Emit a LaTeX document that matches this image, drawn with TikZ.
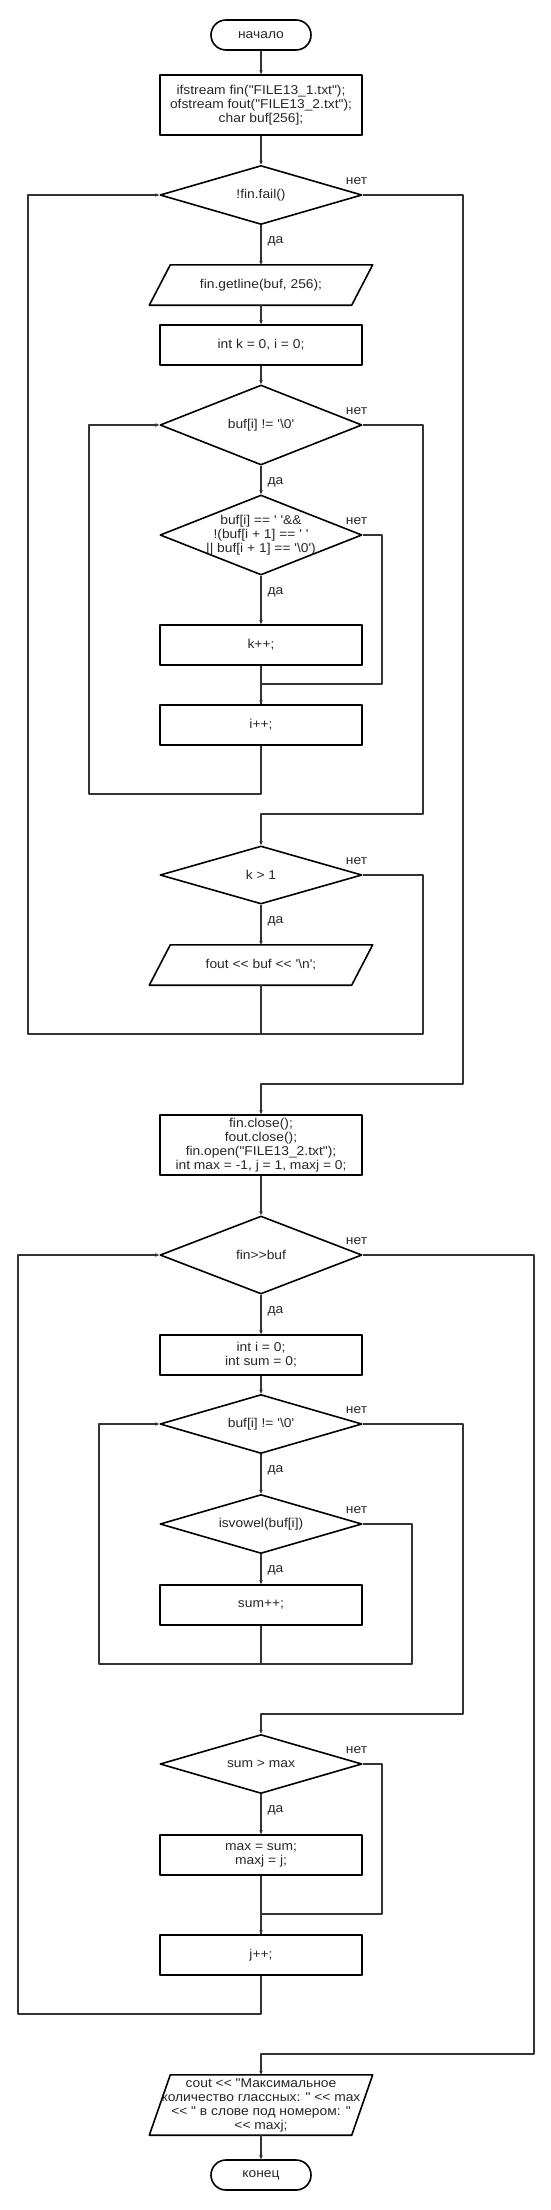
\documentclass[tikz,border=0pt]{standalone}
\usepackage{fontspec}
\setmainfont{Liberation Sans}[Ligatures=TeXOff,FakeStretch=1.08]
\usetikzlibrary{shapes.geometric,arrows.meta}
\definecolor{ln}{HTML}{333333}
\newcommand{\drawio}[1]{\draw[box] ([xshift=10.5pt]#1.north west) -- ([xshift=10.5pt]#1.north east)
	-- ([xshift=-10.5pt]#1.south east) -- ([xshift=-10.5pt]#1.south west) -- cycle;}
\begin{document}
\begin{tikzpicture}[x=1pt,y=-1pt,line join=round,
	font=\fontsize{12.8}{14}\selectfont,text=black!85,
	box/.style={draw=black,line width=1.6pt},
	blk/.style={rectangle,box,minimum width=202pt,minimum height=40pt,align=center,inner sep=1pt},
	term/.style={rectangle,box,rounded corners=15pt,minimum width=100pt,minimum height=30pt},
	dec/.style={diamond,box,aspect=3,minimum width=202pt,inner sep=0pt,align=center},
	io/.style={rectangle,minimum width=202pt,minimum height=40pt,align=center,inner sep=0pt},
	line/.style={draw=ln,line width=1.3pt},
	>={Stealth[length=4pt,width=3.5pt]},
	yes/.style={anchor=north west,inner sep=0pt,xshift=6pt,yshift=-11pt},
	no/.style={anchor=south east,inner sep=0pt,xshift=5pt,yshift=10pt}]
	\useasboundingbox (0,0) rectangle (550,2210);
	% первый цикл: чтение FILE13_1
	\node[term] (start) at (261,35) {начало};
	\node[blk,minimum height=60pt] (b1) at (261,105) {ifstream fin("FILE13\_1.txt");\\ofstream fout("FILE13\_2.txt");\\char buf[256];};
	\node[dec,minimum height=59pt] (d1) at (261,195) {!fin.fail()};
	\node[io] (io1) at (261,285) {fin.getline(buf, 256);};
	\drawio{io1}
	\node[blk] (b2) at (261,345) {int k = 0, i = 0;};
	\node[dec,minimum height=80pt] (d2) at (261,425) {buf[i] != '\textbackslash 0'};
	\node[dec,minimum height=80pt] (d3) at (261,535) {};
	\node[align=center,inner sep=0pt] (d3t) at (d3) {buf[i] == ' '\&\&\\!(buf[i + 1] == ' '\\|| buf[i + 1] == '\textbackslash 0')};
	\node[blk] (b3) at (261,645) {k++;};
	\node[blk] (b4) at (261,725) {i++;};
	\node[dec,minimum height=58pt] (d4) at (261,875) {k > 1};
	\node[io] (io2) at (261,965) {fout << buf << '\textbackslash n';};
	\drawio{io2}
	\node[blk,minimum height=60pt] (b5) at (261,1145) {fin.close();\\fout.close();\\fin.open("FILE13\_2.txt");\\int max = -1, j = 1, maxj = 0;};
	% точки изломов
	\coordinate (l1) at (28,1034);
	\coordinate (r1) at (463,1084);
	\coordinate (l2) at (89,794);
	\coordinate (r2) at (423,814);
	\coordinate (r3) at (382,684);
	\coordinate (r4) at (423,1034);
	\draw[line,->] (start) -- (b1);
	\draw[line,->] (b1) -- (d1);
	\draw[line,->] (d1) -- node[yes,pos=0]{да} (io1);
	\draw[line,->] (io1) -- (b2);
	\draw[line,->] (b2) -- (d2);
	\draw[line,->] (d2) -- node[yes,pos=0]{да} (d3);
	\draw[line,->] (d3) -- node[yes,pos=0]{да} (b3);
	\draw[line,->] (b3) -- (b4);
	\draw[line] (d3.east) node[no]{нет} -| (r3) -| (b4.north);
	\draw[line,->] (b4.south) |- (l2) |- (d2.west);
	\draw[line,->] (d2.east) node[no]{нет} -| (r2) -| (d4.north);
	\draw[line,->] (d4) -- node[yes,pos=0]{да} (io2);
	\draw[line] (d4.east) node[no]{нет} -| (r4) -- (io2.south |- r4);
	\draw[line,->] (io2.south) |- (l1) |- (d1.west);
	\draw[line,->] (d1.east) node[no]{нет} -| (r1) -| (b5.north);
	% второй цикл: поиск слова
	\node[dec,minimum height=78pt] (d5) at (261,1255) {fin>>buf};
	\node[blk] (b6) at (261,1355) {int i = 0;\\int sum = 0;};
	\node[dec,minimum height=59pt] (d6) at (261,1424) {buf[i] != '\textbackslash 0'};
	\node[dec,minimum height=59pt] (d7) at (261,1524) {isvowel(buf[i])};
	\node[blk] (b7) at (261,1605) {sum++;};
	\node[dec,minimum height=59pt] (d8) at (261,1764) {sum > max};
	\node[blk] (b8) at (261,1855) {max = sum;\\maxj = j;};
	\node[blk] (b9) at (261,1955) {j++;};
	\node[io,minimum height=60pt] (io3) at (261,2105) {cout << "Максимальное\\количество глассных: " << max\\<< " в слове под номером: "\\<< maxj;};
	\drawio{io3}
	\node[term] (stop) at (261,2175) {конец};
	\coordinate (l5) at (18,2014);
	\coordinate (r5) at (534,2054);
	\coordinate (l6) at (99,1664);
	\coordinate (r6) at (463,1714);
	\coordinate (r7) at (412,1664);
	\coordinate (r8) at (382,1914);
	\draw[line,->] (b5) -- (d5);
	\draw[line,->] (d5) -- node[yes,pos=0]{да} (b6);
	\draw[line,->] (b6) -- (d6);
	\draw[line,->] (d6) -- node[yes,pos=0]{да} (d7);
	\draw[line,->] (d7) -- node[yes,pos=0]{да} (b7);
	\draw[line] (d7.east) node[no]{нет} -| (r7) -- (b7.south |- r7);
	\draw[line,->] (b7.south) |- (l6) |- (d6.west);
	\draw[line,->] (d6.east) node[no]{нет} -| (r6) -| (d8.north);
	\draw[line,->] (d8) -- node[yes,pos=0]{да} (b8);
	\draw[line,->] (b8) -- (b9);
	\draw[line] (d8.east) node[no]{нет} -| (r8) -| (b9.north);
	\draw[line,->] (b9.south) |- (l5) |- (d5.west);
	\draw[line,->] (d5.east) node[no]{нет} -| (r5) -| (io3.north);
	\draw[line,->] (io3) -- (stop);
\end{tikzpicture}
\end{document}
